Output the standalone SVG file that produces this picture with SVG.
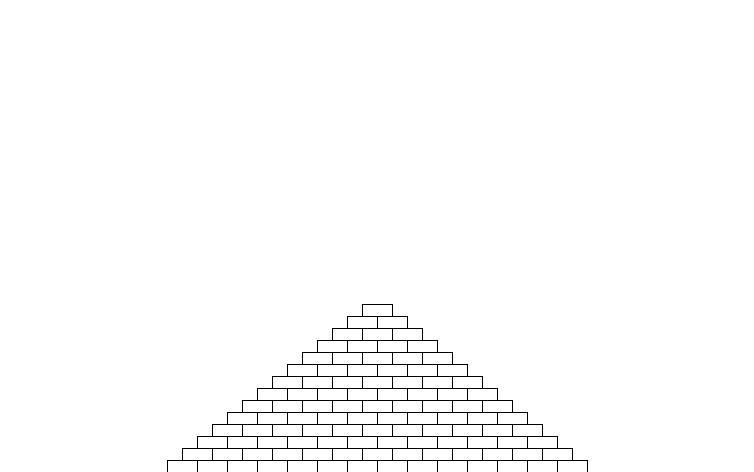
<svg xmlns="http://www.w3.org/2000/svg" xmlns:xlink="http://www.w3.org/1999/xlink" width="754" height="472" viewBox="0 0 754 472">
<style>.b{fill:#fff;stroke:#000;stroke-width:1}</style>
<defs><rect id="brick" class="b" width="30" height="12"/></defs>
<rect width="754" height="472" fill="#fff"/>
<g id="pyramid">
<g id="row0"><use href="#brick" x="362.5" y="304.5"/></g>
<g id="row1"><use href="#brick" x="347.5" y="316.5"/><use href="#brick" x="377.5" y="316.5"/></g>
<g id="row2"><use href="#brick" x="332.5" y="328.5"/><use href="#brick" x="362.5" y="328.5"/><use href="#brick" x="392.5" y="328.5"/></g>
<g id="row3"><use href="#brick" x="317.5" y="340.5"/><use href="#brick" x="347.5" y="340.5"/><use href="#brick" x="377.5" y="340.5"/><use href="#brick" x="407.5" y="340.5"/></g>
<g id="row4"><use href="#brick" x="302.5" y="352.5"/><use href="#brick" x="332.5" y="352.5"/><use href="#brick" x="362.5" y="352.5"/><use href="#brick" x="392.5" y="352.5"/><use href="#brick" x="422.5" y="352.5"/></g>
<g id="row5"><use href="#brick" x="287.5" y="364.5"/><use href="#brick" x="317.5" y="364.5"/><use href="#brick" x="347.5" y="364.5"/><use href="#brick" x="377.5" y="364.5"/><use href="#brick" x="407.5" y="364.5"/><use href="#brick" x="437.5" y="364.5"/></g>
<g id="row6"><use href="#brick" x="272.5" y="376.5"/><use href="#brick" x="302.5" y="376.5"/><use href="#brick" x="332.5" y="376.5"/><use href="#brick" x="362.5" y="376.5"/><use href="#brick" x="392.5" y="376.5"/><use href="#brick" x="422.5" y="376.5"/><use href="#brick" x="452.5" y="376.5"/></g>
<g id="row7"><use href="#brick" x="257.5" y="388.5"/><use href="#brick" x="287.5" y="388.5"/><use href="#brick" x="317.5" y="388.5"/><use href="#brick" x="347.5" y="388.5"/><use href="#brick" x="377.5" y="388.5"/><use href="#brick" x="407.5" y="388.5"/><use href="#brick" x="437.5" y="388.5"/><use href="#brick" x="467.5" y="388.5"/></g>
<g id="row8"><use href="#brick" x="242.5" y="400.5"/><use href="#brick" x="272.5" y="400.5"/><use href="#brick" x="302.5" y="400.5"/><use href="#brick" x="332.5" y="400.5"/><use href="#brick" x="362.5" y="400.5"/><use href="#brick" x="392.5" y="400.5"/><use href="#brick" x="422.5" y="400.5"/><use href="#brick" x="452.5" y="400.5"/><use href="#brick" x="482.5" y="400.5"/></g>
<g id="row9"><use href="#brick" x="227.5" y="412.5"/><use href="#brick" x="257.5" y="412.5"/><use href="#brick" x="287.5" y="412.5"/><use href="#brick" x="317.5" y="412.5"/><use href="#brick" x="347.5" y="412.5"/><use href="#brick" x="377.5" y="412.5"/><use href="#brick" x="407.5" y="412.5"/><use href="#brick" x="437.5" y="412.5"/><use href="#brick" x="467.5" y="412.5"/><use href="#brick" x="497.5" y="412.5"/></g>
<g id="row10"><use href="#brick" x="212.5" y="424.5"/><use href="#brick" x="242.5" y="424.5"/><use href="#brick" x="272.5" y="424.5"/><use href="#brick" x="302.5" y="424.5"/><use href="#brick" x="332.5" y="424.5"/><use href="#brick" x="362.5" y="424.5"/><use href="#brick" x="392.5" y="424.5"/><use href="#brick" x="422.5" y="424.5"/><use href="#brick" x="452.5" y="424.5"/><use href="#brick" x="482.5" y="424.5"/><use href="#brick" x="512.5" y="424.5"/></g>
<g id="row11"><use href="#brick" x="197.5" y="436.5"/><use href="#brick" x="227.5" y="436.5"/><use href="#brick" x="257.5" y="436.5"/><use href="#brick" x="287.5" y="436.5"/><use href="#brick" x="317.5" y="436.5"/><use href="#brick" x="347.5" y="436.5"/><use href="#brick" x="377.5" y="436.5"/><use href="#brick" x="407.5" y="436.5"/><use href="#brick" x="437.5" y="436.5"/><use href="#brick" x="467.5" y="436.5"/><use href="#brick" x="497.5" y="436.5"/><use href="#brick" x="527.5" y="436.5"/></g>
<g id="row12"><use href="#brick" x="182.5" y="448.5"/><use href="#brick" x="212.5" y="448.5"/><use href="#brick" x="242.5" y="448.5"/><use href="#brick" x="272.5" y="448.5"/><use href="#brick" x="302.5" y="448.5"/><use href="#brick" x="332.5" y="448.5"/><use href="#brick" x="362.5" y="448.5"/><use href="#brick" x="392.5" y="448.5"/><use href="#brick" x="422.5" y="448.5"/><use href="#brick" x="452.5" y="448.5"/><use href="#brick" x="482.5" y="448.5"/><use href="#brick" x="512.5" y="448.5"/><use href="#brick" x="542.5" y="448.5"/></g>
<g id="row13"><use href="#brick" x="167.5" y="460.5"/><use href="#brick" x="197.5" y="460.5"/><use href="#brick" x="227.5" y="460.5"/><use href="#brick" x="257.5" y="460.5"/><use href="#brick" x="287.5" y="460.5"/><use href="#brick" x="317.5" y="460.5"/><use href="#brick" x="347.5" y="460.5"/><use href="#brick" x="377.5" y="460.5"/><use href="#brick" x="407.5" y="460.5"/><use href="#brick" x="437.5" y="460.5"/><use href="#brick" x="467.5" y="460.5"/><use href="#brick" x="497.5" y="460.5"/><use href="#brick" x="527.5" y="460.5"/><use href="#brick" x="557.5" y="460.5"/></g>
</g>
</svg>
